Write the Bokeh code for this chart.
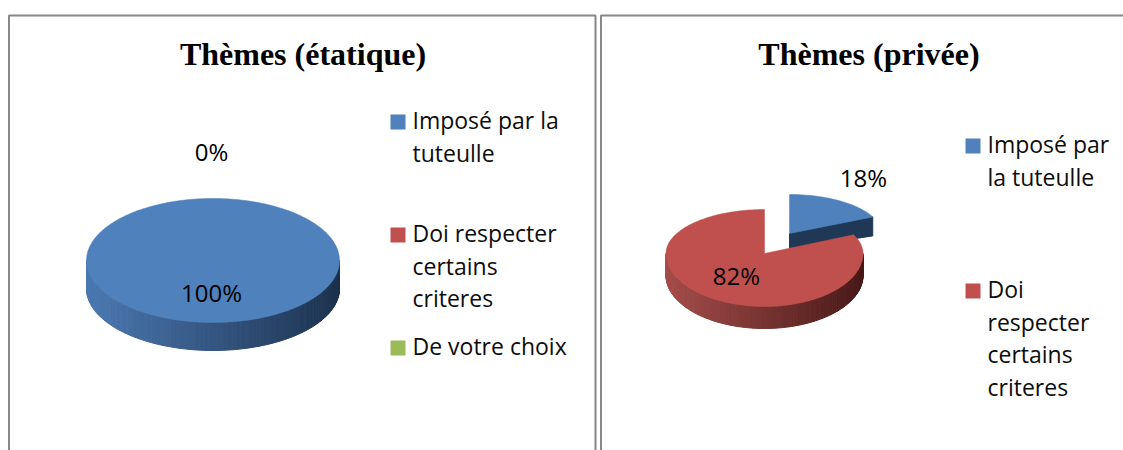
import math
from bokeh.plotting import figure
from bokeh.models import Range1d
from bokeh.core.properties import value
from bokeh.embed import file_html
from bokeh.resources import INLINE

# data
titles = ["Thèmes (étatique)", "Thèmes (privée)"]
state_values = [100, 0, 0]
state_labels = ["100%", "0%"]
private_values = [18, 82]
private_labels = ["18%", "82%"]
state_legend = [["Imposé par la", "tuteulle"], ["Doi respecter", "certains", "criteres"], ["De votre choix"]]
private_legend = [["Imposé par", "la tuteulle"], ["Doi", "respecter", "certains", "criteres"]]
colors = ["#4F81BD", "#C0504D", "#9BBB59"]
wall_colors = [((0x4C, 0x79, 0xB2), (0x1C, 0x32, 0x4E)), ((0xA4, 0x4D, 0x4A), (0x48, 0x19, 0x18))]
cut_color = "#1F3855"

W, H = 1123, 450
p = figure(width=W, height=H, output_backend="svg", toolbar_location=None,
           x_range=Range1d(1, W + 1), y_range=Range1d(H, 0),
           x_axis_type=None, y_axis_type=None, min_border=0,
           outline_line_color=None, background_fill_color="white", border_fill_color="white")
p.grid.visible = False

# panel borders
for xs, ys in [([9.5, 9.5, 596, 596], [H, 15, 15, H]),
               ([601.5, 601.5, W + 1], [H, 15, 15])]:
    p.line(xs, ys, line_color="#878787", line_width=2)


def rim(a, cx, cy, rx, back, front):
    c, s = math.cos(a), math.sin(a)
    return cx + rx * s, cy - (back if c > 0 else front) * c


def mix(pair, f):
    a, b = pair
    return "#%02x%02x%02x" % tuple(round(a[i] + (b[i] - a[i]) * f) for i in range(3))


def slice_3d(start, frac, color, walls, cx, cy, rx, back, front, depth, cut_depth=0):
    a0, a1 = start * 2 * math.pi, (start + frac) * 2 * math.pi
    n = max(2, int(frac * 240))
    angles = [a0 + (a1 - a0) * i / n for i in range(n + 1)]
    # radial cut wall seen at the clockwise end of a back slice
    if cut_depth:
        ex, ey = rim(a1, cx, cy, rx, back, front)
        p.patch([cx, ex, ex, cx], [cy, ey, ey + cut_depth + 2, cy + cut_depth - 2],
                fill_color=cut_color, line_color=cut_color)
    # front wall, light on the left and dark on the right
    xs, ys = [], []
    m = 160
    for i in range(m):
        b0 = math.pi / 2 + math.pi * i / m
        b1 = math.pi / 2 + math.pi * (i + 1) / m
        if b1 <= a0 or b0 >= a1:
            continue
        x0, y0 = rim(b0, cx, cy, rx, back, front)
        x1, y1 = rim(b1, cx, cy, rx, back, front)
        xs.append([x0, x1, x1, x0])
        ys.append([y0, y1, y1 + depth, y0 + depth])
    fs = [mix(walls, (min(x) - (cx - rx)) / (2 * rx)) for x in xs]
    if xs:
        p.patches(xs, ys, fill_color=fs, line_color=fs, line_width=1)
    # top face
    pts = [rim(a, cx, cy, rx, back, front) for a in angles]
    tx, ty = [q[0] for q in pts], [q[1] for q in pts]
    if frac < 1:
        tx, ty = [cx] + tx, [cy] + ty
    p.patch(tx, ty, fill_color=color, line_color=color, line_width=0.5)


# left pie
total = sum(state_values)
slice_3d(0, state_values[0] / total, colors[0], wall_colors[0], 213.5, 260, 126.5, 62, 62, 28)

# right pie: the blue slice is pulled out towards the upper right
total = sum(private_values)
f0 = private_values[0] / total
slice_3d(0, f0, colors[0], wall_colors[0], 790, 233, 92, 39, 39, 0, cut_depth=17)
slice_3d(f0, private_values[1] / total, colors[1], wall_colors[1], 765, 253, 98.5, 44, 53, 22)

FONT = value("Open Sans")
TEXT = "#0d0d0d"
TEXT_SHIFT = 10  # the page draws alphabetic text this far below its anchor


def label(x, y, t, size="23px", align="left", font=FONT, style="normal", color=TEXT):
    p.text([x], [y - TEXT_SHIFT], text=[t], text_font=font, text_font_size=size, text_align=align,
           text_baseline="alphabetic", text_color=color, text_font_style=style)


# titles
label(303.5, 63, titles[0], "32px", "center", value("Liberation Serif"), "bold", "#000000")
label(869.5, 63, titles[1], "32px", "center", value("Liberation Serif"), "bold", "#000000")

# data labels
label(212, 161, state_labels[1], "24px", align="center", color="#000000")
label(212, 302, state_labels[0], "24px", align="center", color="#000000")
label(864, 187, private_labels[0], "24px", align="center", color="#000000")
label(737, 285, private_labels[1], "24px", align="center", color="#000000")


def legend(entries, sx, tx, bases):
    for i, (lines, base) in enumerate(zip(entries, bases)):
        p.quad(left=[sx], right=[sx + 15], top=[base[0] - 15], bottom=[base[0]],
               fill_color=colors[i], line_color=None)
        for t, b in zip(lines, base):
            label(tx, b, t)


legend(state_legend, 391, 413, [[129, 162], [242, 275, 307], [355]])
legend(private_legend, 966, 988, [[153, 186], [298, 331, 363, 396]])

open("out.html", "w").write(file_html(p, INLINE))
